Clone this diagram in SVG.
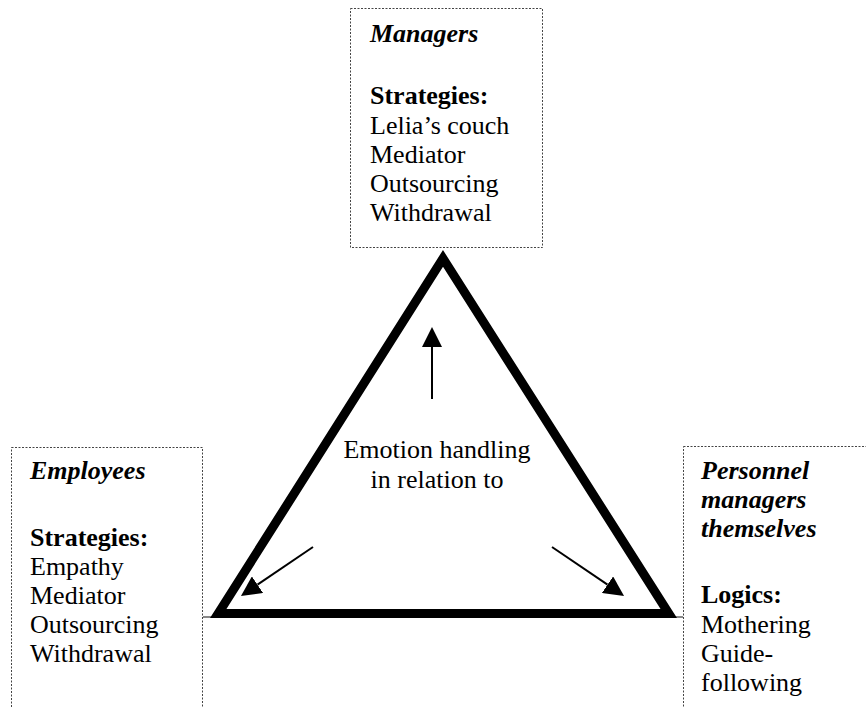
<svg xmlns="http://www.w3.org/2000/svg" width="866" height="708" viewBox="0 0 866 708">
<defs>
<style>
.box{fill:none;stroke:#444;stroke-width:1;stroke-dasharray:2 1.5}
.t{font-family:"Liberation Serif","Times New Roman",serif;font-size:26px;fill:#000}
.it{font-style:italic;font-weight:bold}
.b{font-weight:bold}
.c{text-anchor:middle}
.arr{stroke:#000;stroke-width:2;fill:none}
.tick{stroke:#888;stroke-width:2}
</style>
<marker id="ah" markerUnits="userSpaceOnUse" markerWidth="20" markerHeight="20" refX="0" refY="10" orient="auto" viewBox="0 0 20 20">
<path d="M0,0 L20,10 L0,20 z" fill="#000"/>
</marker>
</defs>
<rect width="866" height="708" fill="#fff"/>

<g id="managers">
<rect class="box" x="350.5" y="8.5" width="192" height="239"/>
<text class="t it" x="370" y="42">Managers</text>
<text class="t b" x="370" y="104">Strategies:</text>
<text class="t" x="370" y="134">Lelia’s couch</text>
<text class="t" x="370" y="163">Mediator</text>
<text class="t" x="370" y="192">Outsourcing</text>
<text class="t" x="370" y="221">Withdrawal</text>
</g>

<g id="employees">
<rect class="box" x="11.5" y="447.5" width="191" height="280"/>
<text class="t it" x="30" y="479">Employees</text>
<text class="t b" x="30" y="546">Strategies:</text>
<text class="t" x="30" y="575">Empathy</text>
<text class="t" x="30" y="604">Mediator</text>
<text class="t" x="30" y="633">Outsourcing</text>
<text class="t" x="30" y="662">Withdrawal</text>
</g>

<g id="personnel">
<rect class="box" x="683.5" y="446.5" width="200" height="280"/>
<text class="t it" x="701" y="479">Personnel</text>
<text class="t it" x="701" y="508">managers</text>
<text class="t it" x="701" y="537">themselves</text>
<text class="t b" x="701" y="603">Logics:</text>
<text class="t" x="701" y="633">Mothering</text>
<text class="t" x="701" y="662">Guide-</text>
<text class="t" x="701" y="691">following</text>
</g>

<g id="triangle">
<line class="tick" x1="203" y1="617" x2="212" y2="617"/>
<line class="tick" x1="675" y1="617" x2="683" y2="617"/>
<polygon points="443,258.4 668.8,613.5 218.2,613.5" fill="none" stroke="#000" stroke-width="9" stroke-linejoin="miter"/>
<text class="t c" x="437" y="458">Emotion handling</text>
<text class="t c" x="437" y="488">in relation to</text>
</g>

<g id="connectors">
<line class="arr" x1="432" y1="399" x2="432" y2="347" marker-end="url(#ah)"/>
<line class="arr" x1="313" y1="547" x2="257.5" y2="584.7" marker-end="url(#ah)"/>
<line class="arr" x1="552" y1="547" x2="607.5" y2="584.7" marker-end="url(#ah)"/>
</g>
</svg>
